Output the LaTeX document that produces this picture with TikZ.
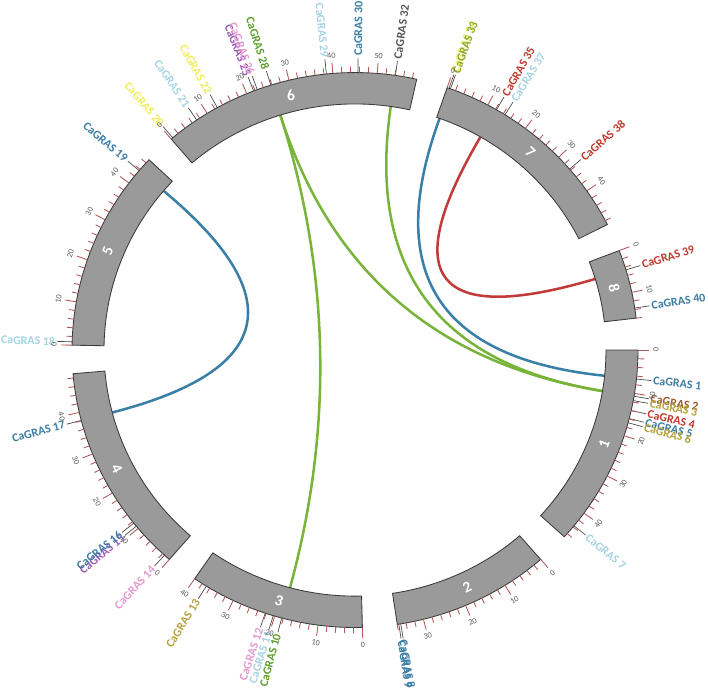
\documentclass[tikz,border=0pt]{standalone}
\usepackage{fontspec}
\setmainfont{Carlito}
\usetikzlibrary{calc}

\definecolor{chrgray}{HTML}{9A9A9A}
\definecolor{chrline}{HTML}{3A3A3A}
\definecolor{tickred}{HTML}{B35656}
\definecolor{gblue}{HTML}{3C7DA3}
\definecolor{gltblue}{HTML}{A6D3E3}
\definecolor{gyellow}{HTML}{F0EC5A}
\definecolor{ggreen}{HTML}{5E9E2E}
\definecolor{gyelgreen}{HTML}{8CA83A}
\definecolor{gred}{HTML}{C0392B}
\definecolor{gbrown}{HTML}{9C5A2A}
\definecolor{gpink}{HTML}{E39AD0}
\definecolor{gpurple}{HTML}{9B59B6}
\definecolor{golive}{HTML}{B5A13E}
\definecolor{ggray}{HTML}{555555}
\definecolor{linkblue}{HTML}{3A7FA8}
\definecolor{linkgreen}{HTML}{79B43A}
\definecolor{linkred}{HTML}{C23B3B}

\def\rout{283}
\def\rin{251}
\def\mbscale{0.9}

% one chromosome: number, start angle, length in Mb
\newcommand{\chromosome}[3]{%
  \pgfmathsetmacro{\chrend}{#2-#3*\mbscale}
  \draw[chrom] plot[domain=#2:\chrend, samples=40] (\x:\rout)
    -- plot[domain=\chrend:#2, samples=40] (\x:\rin) -- cycle;
  \foreach \m in {0,2,...,#3}{
    \pgfmathsetmacro{\at}{#2-\m*\mbscale}
    \pgfmathtruncatemacro{\major}{mod(\m,10)==0}
    \ifnum\major=1
      \draw[tick] (\at:\rout) -- (\at:{\rout+11});
      \pgfmathsetmacro{\tr}{sin(\at)>=0 ? \at-90 : \at+90}
      \node[ticklabel, rotate=\tr] at (\at:301) {\m};
    \else
      \draw[tick] (\at:\rout) -- (\at:{\rout+6});
    \fi
  }
  \pgfmathsetmacro{\amid}{#2-#3*\mbscale/2}
  \pgfmathsetmacro{\nr}{sin(\amid)>=0 ? \amid-90 : \amid+90}
  \node[chrnum, rotate=\nr] (chr#1) at (\amid:267) {#1};
}

% one gene: number, angle, colour
\newcommand{\gene}[3]{%
  \coordinate (g#1) at (#2:\rin);
  \draw[leader] (#2:\rout) -- (#2:298);
  \pgfmathtruncatemacro{\rside}{cos(#2)>=0}
  \ifnum\rside=1
    \node[genelabel, text=#3, anchor=west, rotate=#2] (lab#1) at (#2:299) {CaGRAS #1};
  \else
    \pgfmathsetmacro{\rot}{#2+180}
    \node[genelabel, text=#3, anchor=east, rotate=\rot] (lab#1) at (#2:299) {CaGRAS #1};
  \fi
}

% link between two genes, bent through the centre
\newcommand{\glink}[3]{%
  \draw[link, #1] (#2) .. controls ($(#2)!0.667!(O)$) and ($(#3)!0.667!(O)$) .. (#3);
}

\begin{document}
\begin{tikzpicture}[x=0.025cm, y=0.0245cm,
    chrom/.style={fill=chrgray, draw=chrline, line width=0.6pt},
    tick/.style={draw=tickred, line width=0.6pt},
    ticklabel/.style={font=\fontsize{5.8}{6}\selectfont, text=black!65, inner sep=0pt},
    leader/.style={draw=black!70, line width=0.5pt},
    genelabel/.style={font=\fontsize{8.5}{9}\selectfont\bfseries, inner sep=0.5pt},
    chrnum/.style={font=\fontsize{11}{12}\selectfont\bfseries, text=white},
    link/.style={line width=1.8pt}]

  \useasboundingbox (-355,-349) rectangle (353,357);
  \coordinate (O) at (0,0);

  % genes
  \gene{1}{-6}{gblue}
  \gene{2}{-9.6}{gbrown}
  \gene{3}{-10.5}{golive}
  \gene{4}{-12.6}{gred}
  \gene{5}{-14.3}{gblue}
  \gene{6}{-15.2}{golive}
  \gene{7}{-39.3}{gltblue}
  \gene{8}{-80.7}{gblue}
  \gene{9}{-81.1}{gblue}
  \gene{10}{-105}{ggreen}
  \gene{11}{-106.8}{gltblue}
  \gene{12}{-108.5}{gpink}
  \gene{13}{-121.7}{golive}
  \gene{14}{-132.3}{gpink}
  \gene{15}{-140.6}{gpurple}
  \gene{16}{-141.4}{gblue}
  \gene{17}{-165.3}{gblue}
  \gene{18}{178.3}{gltblue}
  \gene{19}{139.7}{gblue}
  \gene{20}{130.1}{gyellow}
  \gene{21}{124}{gltblue}
  \gene{22}{119.1}{gyellow}
  \gene{25}{111}{gpurple}
  \gene{26}{110.2}{gpink}
  \gene{28}{107.3}{ggreen}
  \gene{29}{95.8}{gltblue}
  \gene{30}{89.4}{gblue}
  \gene{32}{81.8}{ggray}
  \gene{34}{70.6}{gyellow}
  \gene{33}{70.3}{gyelgreen}
  \gene{35}{60}{gred}
  \gene{37}{58}{gltblue}
  \gene{38}{40.7}{gred}
  \gene{39}{16.8}{gred}
  \gene{40}{8.7}{gblue}

  % links
  \glink{linkblue}{g19}{g17}
  \glink{linkblue}{g33}{g1}
  \glink{linkred}{g35}{g39}
  \glink{linkgreen}{g28}{g10}
  \glink{linkgreen}{g28}{g2}
  \glink{linkgreen}{g32}{g2}

  % chromosomes
  \chromosome{1}{0}{47}
  \chromosome{2}{-49}{36}
  \chromosome{3}{-88.5}{40}
  \chromosome{4}{-131}{49}
  \chromosome{5}{179}{47}
  \chromosome{6}{130.5}{59}
  \chromosome{7}{71}{49}
  \chromosome{8}{21}{16}

\end{tikzpicture}
\end{document}
